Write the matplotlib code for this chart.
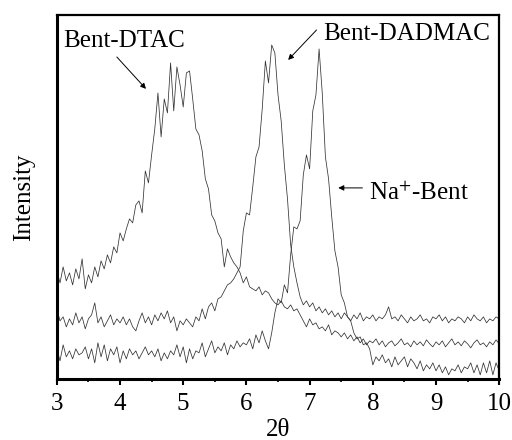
import numpy as np
import matplotlib
matplotlib.use('Agg')
import matplotlib.pyplot as plt

plt.rcParams['font.family'] = ['Liberation Serif', 'DejaVu Serif']
plt.rcParams['mathtext.fontset'] = 'stix'

# 2theta grid, step 0.05 deg
two_theta = np.linspace(3, 10, 141)

# intensities (arbitrary units)
bent_dtac = [
    108, 96, 112, 98, 106, 94, 110, 100, 120, 90,
    104, 96, 112, 102, 118, 110, 124, 116, 132, 126,
    146, 138, 150, 160, 156, 174, 178, 166, 208, 196,
    224, 250, 286, 242, 280, 266, 316, 268, 312, 294,
    272, 306, 308, 280, 250, 244, 228, 200, 190, 164,
    158, 146, 140, 112, 130, 122, 116, 112, 106, 96,
    102, 92, 90, 88, 92, 84, 88, 86, 80, 76,
    74, 78, 72, 70, 74, 68, 70, 64, 58, 52,
    60, 54, 56, 50, 52, 48, 54, 44, 48, 46,
    42, 46, 40, 44, 38, 42, 36, 40, 34, 38,
    36, 40, 34, 38, 32, 36, 38, 33, 36, 40,
    34, 36, 32, 38, 34, 37, 33, 39, 35, 32,
    37, 34, 38, 32, 36, 40, 34, 37, 33, 38,
    35, 31, 36, 39, 34, 36, 32, 37, 34, 39,
    35,
]

bent_dadmac = [
    70, 58, 62, 52, 60, 54, 66, 56, 62, 50,
    60, 64, 76, 56, 62, 52, 58, 64, 54, 60,
    56, 62, 54, 60, 52, 48, 58, 66, 56, 62,
    54, 64, 58, 66, 60, 68, 56, 62, 48, 58,
    54, 60, 56, 52, 62, 58, 70, 60, 72, 76,
    68, 80, 82, 88, 94, 96, 100, 106, 112, 148,
    166, 164, 192, 222, 232, 270, 318, 296, 334, 326,
    284, 258, 214, 180, 134, 112, 96, 82, 74, 78,
    72, 76, 68, 72, 66, 70, 64, 68, 62, 66,
    60, 66, 62, 58, 64, 60, 66, 58, 62, 60,
    64, 58, 62, 60, 64, 72, 60, 62, 58, 64,
    60, 56, 62, 58, 60, 64, 58, 60, 56, 62,
    60, 64, 58, 62, 56, 60, 58, 62, 60, 56,
    62, 58, 64, 60, 58, 62, 56, 60, 58, 62,
    60,
]

na_bent = [
    30, 18, 34, 22, 28, 20, 30, 24, 26, 32,
    20, 30, 16, 36, 22, 34, 18, 30, 24, 32,
    16, 28, 20, 30, 24, 28, 20, 26, 32, 24,
    28, 22, 30, 18, 26, 20, 28, 24, 34, 22,
    32, 16, 30, 20, 28, 26, 36, 22, 30, 38,
    26, 32, 28, 36, 24, 34, 30, 38, 32, 36,
    34, 40, 30, 44, 36, 48, 38, 30, 46, 66,
    80, 76, 94, 86, 124, 152, 150, 158, 204, 224,
    210, 268, 284, 330, 286, 222, 200, 162, 128, 112,
    84, 76, 62, 58, 46, 40, 42, 34, 36, 30,
    14, 22, 18, 24, 16, 20, 12, 22, 14, 18,
    22, 12, 20, 16, 10, 18, 8, 14, 10, 16,
    8, 14, 6, 12, 4, 10, 8, 14, 6, 12,
    10, 16, 6, 14, 4, 16, 6, 18, 4, 16,
    8,
]

fig = plt.figure(figsize=(5.12, 4.4), dpi=100)
ax = fig.add_axes([0.111, 0.139, 0.864, 0.827])

for y in (bent_dtac, bent_dadmac, na_bent):
    ax.plot(two_theta, y, color='#333333', lw=0.55)

ax.set_xlim(3, 10)
ax.set_ylim(0, 364)
ax.set_xticks(range(3, 11))
ax.set_xticks(np.arange(3.5, 10, 1), minor=True)
ax.set_yticks([])
ax.tick_params(axis='x', which='major', direction='out', length=4, width=1.5,
               labelsize=18, pad=6)
ax.tick_params(axis='x', which='minor', direction='out', length=2.5, width=1.2)
for side in ('left', 'bottom'):
    ax.spines[side].set_linewidth(2.2)
for side in ('top', 'right'):
    ax.spines[side].set_linewidth(1.6)

ax.set_xlabel('2θ', fontsize=18, labelpad=3)
ax.set_ylabel('Intensity', fontsize=18, labelpad=16)

arrow = dict(arrowstyle='-|>', lw=0.7, color='k', mutation_scale=8)
ax.annotate('', xy=(4.44, 288), xytext=(3.92, 324), arrowprops=arrow)
ax.text(3.095, 332, 'Bent-DTAC', fontsize=18, va='baseline')
ax.annotate('', xy=(6.63, 317), xytext=(7.14, 351), arrowprops=arrow)
ax.text(7.22, 339, 'Bent-DADMAC', fontsize=18, va='baseline')
ax.annotate('', xy=(7.41, 191), xytext=(7.88, 191), arrowprops=arrow)
ax.text(7.94, 179, 'Na$^{+}$-Bent', fontsize=18, va='baseline')

fig.savefig('out.png', dpi=100)
